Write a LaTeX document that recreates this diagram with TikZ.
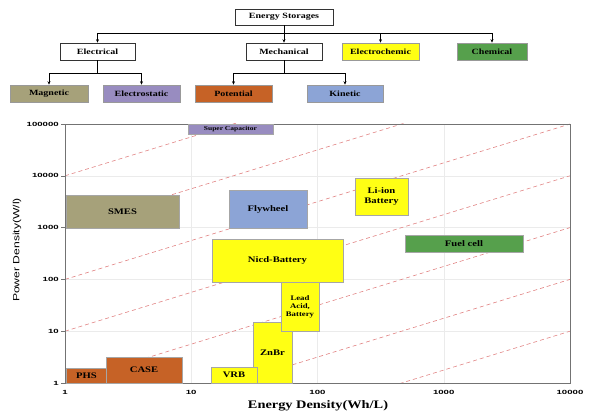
\documentclass[tikz,border=0pt]{standalone}
\usepackage{fontspec}
\setmainfont[FakeStretch=1.25]{Liberation Serif}
\setsansfont[FakeStretch=1.35]{Liberation Sans}
\newfontfamily\tickfont[FakeStretch=1.6]{Liberation Sans}
\usepackage{tikz}
\usetikzlibrary{arrows.meta}

\definecolor{magcol}{RGB}{166,161,122}
\definecolor{elscol}{RGB}{152,140,192}
\definecolor{potcol}{RGB}{198,98,38}
\definecolor{kincol}{RGB}{140,164,214}
\definecolor{batcol}{RGB}{255,255,20}
\definecolor{chemcol}{RGB}{86,160,76}
\definecolor{ratecol}{RGB}{225,130,130}

\begin{document}
\begin{tikzpicture}[x=1pt,y=-1pt,>={Stealth[length=3.5pt,width=3pt]},
    tbox/.style={draw=black!80, line width=0.6pt, inner sep=0pt, minimum height=17pt,
        font=\bfseries\fontsize{8}{9}\selectfont},
    cbox/.style={draw=black!35, line width=0.5pt, inner sep=0pt, align=center,
        font=\bfseries\fontsize{8.5}{9.5}\selectfont},
    rateline/.style={ratecol, line width=0.6pt, dash pattern=on 4pt off 3pt},
    gridline/.style={black!8, line width=0.4pt},
    ticklabel/.style={font=\tickfont\bfseries\fontsize{6}{7}\selectfont, inner sep=1pt}]
    \useasboundingbox (0,0) rectangle (590,414);

    % classification tree
    \node[tbox, minimum width=98pt, minimum height=16pt] (root) at (284,17) {Energy Storages};
    \node[tbox, minimum width=75pt] (electrical) at (97.5,51.5) {Electrical};
    \node[tbox, minimum width=76pt] (mechanical) at (284,51.5) {Mechanical};
    \node[tbox, fill=batcol, draw=black!40, minimum width=77pt] (electrochem) at (380.5,51.5) {Electrochemic};
    \node[tbox, fill=chemcol, draw=black!40, minimum width=70pt] (chemical) at (492,51.5) {Chemical};
    \node[tbox, fill=magcol, draw=black!40, minimum width=78pt] (magnetic) at (49,93.5) {Magnetic};
    \node[tbox, fill=elscol, draw=black!40, minimum width=77pt] (electrostatic) at (141.5,93.5) {Electrostatic};
    \node[tbox, fill=potcol, draw=black!40, minimum width=77pt] (potential) at (233.5,93.5) {Potential};
    \node[tbox, fill=kincol, draw=black!40, minimum width=76pt] (kinetic) at (345,93.5) {Kinetic};

    \draw[line width=0.8pt] (root.south) -- ++(0,8) coordinate (bus);
    \draw[line width=0.8pt] (electrical.north |- bus) -- (chemical.north |- bus);
    \foreach \n in {electrical,mechanical,electrochem,chemical}
        \draw[line width=0.8pt,->] (\n.north |- bus) -- (\n.north);
    \draw[line width=0.8pt] (electrical.south) -- ++(0,13) coordinate (ebus);
    \draw[line width=0.8pt] (magnetic.north |- ebus) -- (electrostatic.north |- ebus);
    \draw[line width=0.8pt] (mechanical.south) -- ++(0,13) coordinate (mbus);
    \draw[line width=0.8pt] (potential.north |- mbus) -- (kinetic.north |- mbus);
    \foreach \n in {magnetic,electrostatic}
        \draw[line width=0.8pt,->] (\n.north |- ebus) -- (\n.north);
    \foreach \n in {potential,kinetic}
        \draw[line width=0.8pt,->] (\n.north |- mbus) -- (\n.north);

    % Ragone chart, log-log, one unit = one decade
    \begin{scope}[shift={(65,383)}, x=126.25pt, y=51.8pt]
        \foreach \d in {1,2,3} \draw[gridline] (\d,0) -- (\d,5);
        \foreach \d in {1,...,4} \draw[gridline] (0,\d) -- (4,\d);
        \begin{scope}
            \clip (0,0) rectangle (4,5);
            \foreach \L in {4,3,...,-2}
                \draw[rateline] (0,\L) -- (4,\L+3);
        \end{scope}
        \draw[black!55, line width=0.6pt] (0,0) rectangle (4,5);
        \foreach \d in {0,...,5} \draw[black!55] (0,\d) -- (-0.03,\d);
        \foreach \d/\t in {0/1,1/10,2/100,3/1000,4/10000,5/100000}
            \node[ticklabel, anchor=east] (yt\d) at (-0.04,\d) {\t};
        \foreach \d/\t in {0/1,1/10,2/100,3/1000,4/10000}
            \node[ticklabel, anchor=north] (xt\d) at (\d,-0.11) {\t};
    \end{scope}
    \node[font=\bfseries\fontsize{11.5}{12}\selectfont] (xlabel) at (318,406) {Energy Density(Wh/L)};
    \node[font=\sffamily\fontsize{9}{10}\selectfont, rotate=90] (ylabel) at (17,250) {Power Density(W/l)};

    % technologies
    \node[cbox, fill=elscol, minimum width=85pt, minimum height=10pt,
        font=\bfseries\fontsize{6}{7}\selectfont] (supcap) at (230.5,129) {Super Capacitor};
    \node[cbox, fill=magcol, minimum width=113pt, minimum height=33pt] (smes) at (122.5,211.5) {SMES};
    \node[cbox, fill=kincol, minimum width=78pt, minimum height=38pt] (flywheel) at (268,209) {Flywheel};
    \node[cbox, fill=batcol, minimum width=53pt, minimum height=37pt] (liion) at (381.5,196.5) {Li-ion\\Battery};
    \node[cbox, fill=chemcol, minimum width=118pt, minimum height=17pt] (fuelcell) at (464,243.5) {Fuel cell};
    \node[cbox, fill=batcol, minimum width=131pt, minimum height=43pt] (nicd) at (277.5,260.5) {Nicd-Battery};
    \node[cbox, fill=batcol, minimum width=39pt, minimum height=61pt] (znbr) at (272.5,352.5) {ZnBr};
    \node[cbox, fill=batcol, minimum width=38pt, minimum height=49pt,
        font=\bfseries\fontsize{7}{8}\selectfont] (leadacid) at (300,306.5) {Lead\\Acid,\\Battery};
    \node[cbox, fill=batcol, minimum width=46pt, minimum height=16pt] (vrb) at (234,375) {VRB};
    \node[cbox, fill=potcol, minimum width=41pt, minimum height=15pt] (phs) at (86.5,375.5) {PHS};
    \node[cbox, fill=potcol, minimum width=76pt, minimum height=26pt] (case) at (144,370) {CASE};
\end{tikzpicture}
\end{document}
